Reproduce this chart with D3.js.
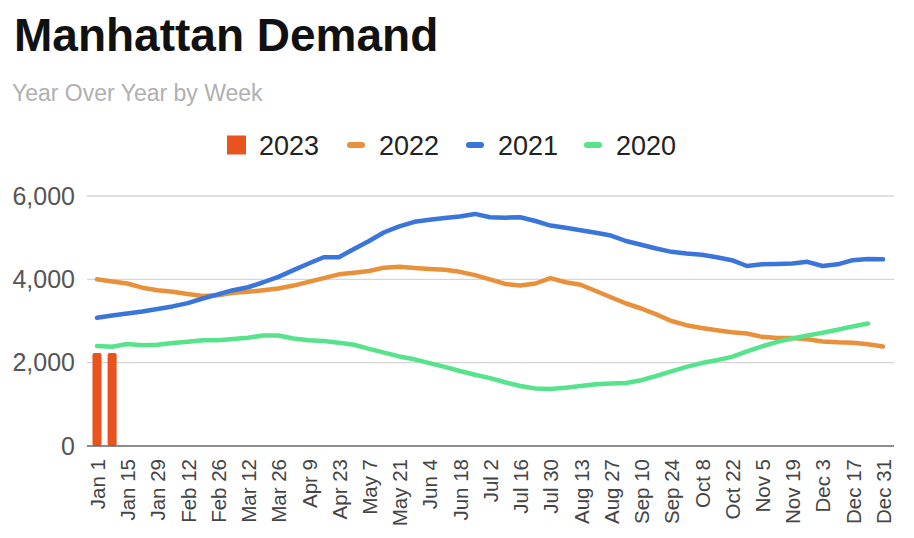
<!DOCTYPE html>
<html>
<head>
<meta charset="utf-8">
<script src="https://cdn.jsdelivr.net/npm/d3@7"></script>
<style>
  body { margin: 0; background: #fff; }
  text { font-family: "Liberation Sans", Arial, sans-serif; }
</style>
</head>
<body>
<div id="chart"></div>
<script>
// week categories (x axis)
const weeks = ["Jan 1","Jan 8","Jan 15","Jan 22","Jan 29","Feb 5","Feb 12","Feb 19","Feb 26",
  "Mar 5","Mar 12","Mar 19","Mar 26","Apr 2","Apr 9","Apr 16","Apr 23","Apr 30",
  "May 7","May 14","May 21","May 28","Jun 4","Jun 11","Jun 18","Jun 25",
  "Jul 2","Jul 9","Jul 16","Jul 23","Jul 30","Aug 6","Aug 13","Aug 20","Aug 27",
  "Sep 3","Sep 10","Sep 17","Sep 24","Oct 1","Oct 8","Oct 15","Oct 22","Oct 29",
  "Nov 5","Nov 12","Nov 19","Nov 26","Dec 3","Dec 10","Dec 17","Dec 24","Dec 31"];

// every other week gets a label
const tickLabels = ["Jan 1","Jan 15","Jan 29","Feb 12","Feb 26","Mar 12","Mar 26","Apr 9","Apr 23",
  "May 7","May 21","Jun 4","Jun 18","Jul 2","Jul 16","Jul 30","Aug 13","Aug 27",
  "Sep 10","Sep 24","Oct 8","Oct 22","Nov 5","Nov 19","Dec 3","Dec 17","Dec 31"];

const yTicks = [0, 2000, 4000, 6000];

// 2023 so far (bars)
const values2023 = [2230, 2230];

const values2022 = [4000,3950,3900,3800,3740,3700,3650,3600,3620,3680,3700,3740,3780,3850,3940,4030,
  4120,4160,4200,4280,4300,4270,4250,4230,4180,4100,4000,3890,3850,3900,4030,3930,3870,3720,3570,
  3420,3300,3160,3000,2900,2830,2780,2730,2700,2620,2590,2590,2560,2510,2490,2480,2440,2390];

const values2021 = [3080,3130,3180,3230,3290,3350,3430,3540,3640,3740,3810,3930,4060,4220,4380,4530,
  4530,4730,4920,5130,5270,5380,5430,5470,5510,5570,5490,5480,5490,5400,5290,5240,5180,5120,5050,
  4920,4830,4740,4660,4620,4590,4530,4460,4320,4360,4370,4380,4420,4320,4360,4460,4490,4480];

const values2020 = [2400,2380,2450,2420,2430,2470,2500,2540,2540,2570,2600,2650,2650,2580,2540,2520,
  2480,2430,2330,2240,2150,2080,1990,1900,1800,1710,1630,1530,1440,1380,1370,1400,1440,1480,1500,
  1510,1580,1680,1790,1900,1990,2060,2140,2270,2390,2500,2580,2650,2720,2790,2870,2940];

const seriesNames = ["2023", "2022", "2021", "2020"];
const seriesColors = ["#e8531f", "#e8903a", "#3a75db", "#57e38b"];

const width = 914;
const height = 538;
const plotLeft = 87, plotRight = 894, plotTop = 196, plotBottom = 446;

const svg = d3.select("#chart")
  .append("svg")
  .attr("width", width)
  .attr("height", height);

// title and subtitle
svg.append("text")
  .attr("x", 14)
  .attr("y", 51)
  .attr("font-size", 46)
  .attr("font-weight", "bold")
  .attr("fill", "#111")
  .text("Manhattan Demand");

svg.append("text")
  .attr("x", 12)
  .attr("y", 101)
  .attr("font-size", 23)
  .attr("fill", "#b0b0b0")
  .text("Year Over Year by Week");

// scales
const x = d3.scalePoint()
  .domain(weeks)
  .range([97, 883]);

const y = d3.scaleLinear()
  .domain([0, 6000])
  .range([plotBottom, plotTop]);

// gridlines
svg.append("g")
  .selectAll("line")
  .data(yTicks.filter(d => d > 0))
  .enter().append("line")
  .attr("x1", plotLeft)
  .attr("x2", plotRight)
  .attr("y1", d => y(d))
  .attr("y2", d => y(d))
  .attr("stroke", "#d6d6d6")
  .attr("stroke-width", 1.3);

// y axis labels
const yAxis = svg.append("g")
  .attr("transform", `translate(${plotLeft - 12},0)`)
  .call(d3.axisLeft(y).tickValues(yTicks).tickFormat(d3.format(",")).tickSize(0));
yAxis.select(".domain").remove();
yAxis.selectAll("text")
  .attr("x", 0)
  .attr("font-size", 25)
  .attr("fill", "#555")
  .style("font-family", "'Liberation Sans', Arial, sans-serif");

// bars for 2023
const barW = x.step() * 0.6;
svg.append("g")
  .selectAll("rect")
  .data(values2023)
  .enter().append("rect")
  .attr("x", (d, i) => x(weeks[i]) - barW / 2)
  .attr("y", d => y(d))
  .attr("width", barW)
  .attr("height", d => y(0) - y(d))
  .attr("rx", 2)
  .attr("fill", seriesColors[0]);

// lines
const line = d3.line()
  .x((d, i) => x(weeks[i]))
  .y(d => y(d));

[values2022, values2021, values2020].forEach((vals, k) => {
  svg.append("path")
    .datum(vals)
    .attr("d", line)
    .attr("fill", "none")
    .attr("stroke", seriesColors[k + 1])
    .attr("stroke-width", 4.5)
    .attr("stroke-linejoin", "round")
    .attr("stroke-linecap", "round");
});

// baseline
svg.append("line")
  .attr("x1", plotLeft)
  .attr("x2", plotRight)
  .attr("y1", y(0))
  .attr("y2", y(0))
  .attr("stroke", "#666")
  .attr("stroke-width", 1.6);

// x axis labels, rotated
const xAxis = svg.append("g")
  .attr("transform", `translate(0,${plotBottom})`)
  .call(d3.axisBottom(x).tickValues(tickLabels).tickSize(0));
xAxis.select(".domain").remove();
xAxis.selectAll("text")
  .attr("transform", "rotate(-90)")
  .attr("x", -13)
  .attr("y", 0)
  .attr("dy", "0.36em")
  .attr("text-anchor", "end")
  .attr("font-size", 20.5)
  .attr("fill", "#444")
  .style("font-family", "'Liberation Sans', Arial, sans-serif");

// legend
const legendX = [227, 347, 466, 584];
const legend = svg.append("g");
seriesNames.forEach((name, i) => {
  const g = legend.append("g").attr("transform", `translate(${legendX[i]},145)`);
  if (i === 0) {
    g.append("rect")
      .attr("x", 0).attr("y", -9.5)
      .attr("width", 19).attr("height", 19)
      .attr("fill", seriesColors[i]);
  } else {
    g.append("rect")
      .attr("x", 0).attr("y", -3)
      .attr("width", 18).attr("height", 6)
      .attr("rx", 3)
      .attr("fill", seriesColors[i]);
  }
  g.append("text")
    .attr("x", 32)
    .attr("y", 0)
    .attr("dy", "0.36em")
    .attr("font-size", 27)
    .attr("fill", "#222")
    .text(name);
});
</script>
</body>
</html>
